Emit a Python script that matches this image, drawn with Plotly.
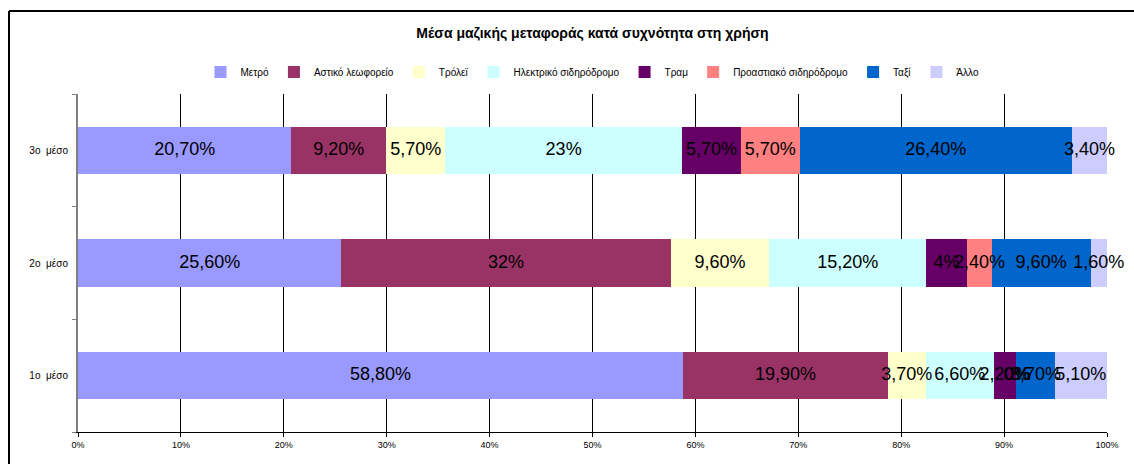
import plotly.graph_objects as go

categories = ["1ο  μέσο", "2ο  μέσο", "3ο  μέσο"]
series_names = ["Μετρό", "Αστικό λεωφορείο", "Τρόλεϊ", "Ηλεκτρικό σιδηρόδρομο",
                "Τραμ", "Προαστιακό σιδηρόδρομο", "Ταξί", "Άλλο"]
metro = [58.8, 25.6, 20.7]
bus = [19.9, 32.0, 9.2]
trolley = [3.7, 9.6, 5.7]
electric = [6.6, 15.2, 23.0]
tram = [2.2, 4.0, 5.7]
suburban = [0.0, 2.4, 5.7]
taxi = [3.7, 9.6, 26.4]
other = [5.1, 1.6, 3.4]
colors = ["#9999FF", "#993366", "#FFFFCC", "#CCFFFF", "#660066", "#FF8080", "#0066CC", "#CCCCFF"]
x_ticks = [0, 10, 20, 30, 40, 50, 60, 70, 80, 90, 100]

series = [metro, bus, trolley, electric, tram, suburban, taxi, other]

def fmt(v):
    if abs(v - round(v)) < 1e-9:
        return f"{int(round(v))}%"
    return f"{v:.2f}".replace(".", ",") + "%"

FONT = "Liberation Sans, Arial, sans-serif"
fig = go.Figure()
for name, vals, col in zip(series_names, series, colors):
    fig.add_trace(go.Bar(
        y=categories, x=vals, name=name, orientation="h",
        marker=dict(color=col, line=dict(width=0)),
        hoverinfo="x+name",
    ))

# data labels at segment centres (normalised like a 100% stacked chart)
lab_x, lab_y, lab_t = [], [], []
for ci, cat in enumerate(categories):
    total = sum(s[ci] for s in series)
    cum = 0.0
    for s in series:
        v = s[ci]
        p = v / total * 100
        lab_x.append(cum + p / 2)
        lab_y.append(cat)
        lab_t.append(fmt(v))
        cum += p
fig.add_trace(go.Scatter(
    x=lab_x, y=lab_y, text=lab_t, mode="text",
    textfont=dict(family=FONT, size=18, color="black"),
    textposition="middle center", showlegend=False, hoverinfo="skip", cliponaxis=False,
))

W, H = 1134, 464
L, R, T, B = 78, 27, 94, 32
pw, ph = W - L - R, H - T - B

def px_x(p):
    return (p - L) / pw

def px_y(p):
    return (H - B - p) / ph

fig.update_layout(
    width=W, height=H,
    margin=dict(l=L, r=R, t=T, b=B, autoexpand=False),
    barmode="stack", barnorm="percent", bargap=0.58,
    plot_bgcolor="white", paper_bgcolor="white",
    font=dict(family=FONT, size=10, color="black"),
    title=dict(text="<b>Μέσα μαζικής μεταφοράς κατά συχνότητα στη χρήση</b>",
               font=dict(family="Liberation Sans Narrow, Arial Narrow, Liberation Sans, sans-serif", size=14, color="black"),
               x=0.5, xref="paper", xanchor="center", y=1 - 33 / H, yanchor="middle"),
    legend=dict(orientation="h", x=0.5, xanchor="center", y=px_y(72), yanchor="middle",
                font=dict(family=FONT, size=10), itemwidth=30, traceorder="normal",
                bgcolor="rgba(0,0,0,0)"),
    xaxis=dict(range=[0, 100], tickvals=x_ticks, ticktext=[f"{t}%" for t in x_ticks],
               showgrid=True, gridcolor="black", gridwidth=1,
               showline=True, linecolor="black", linewidth=1,
               ticks="outside", ticklen=4, tickcolor="black", automargin=False,
               tickfont=dict(family=FONT, size=9), zeroline=False, fixedrange=True),
    yaxis=dict(categoryorder="array", categoryarray=categories, range=[-0.5, 2.5],
               showline=True, linecolor="#808080", linewidth=2,
               ticks="outside", ticklen=4, tickcolor="#808080", tickson="boundaries",
               tickfont=dict(family=FONT, size=10), showgrid=False, zeroline=False,
               ticklabelstandoff=6, fixedrange=True, automargin=False),
    shapes=[
        dict(type="line", xref="paper", yref="paper", x0=px_x(9), x1=px_x(W + 20),
             y0=px_y(11), y1=px_y(11), line=dict(color="black", width=2)),
        dict(type="line", xref="paper", yref="paper", x0=px_x(9), x1=px_x(9),
             y0=px_y(11), y1=px_y(H + 20), line=dict(color="black", width=2)),
    ],
    showlegend=True,
)

fig.write_html("out.html", config={"displayModeBar": False},
               post_script="document.body.style.margin='0';document.body.style.padding='0';document.body.style.overflow='hidden';")
